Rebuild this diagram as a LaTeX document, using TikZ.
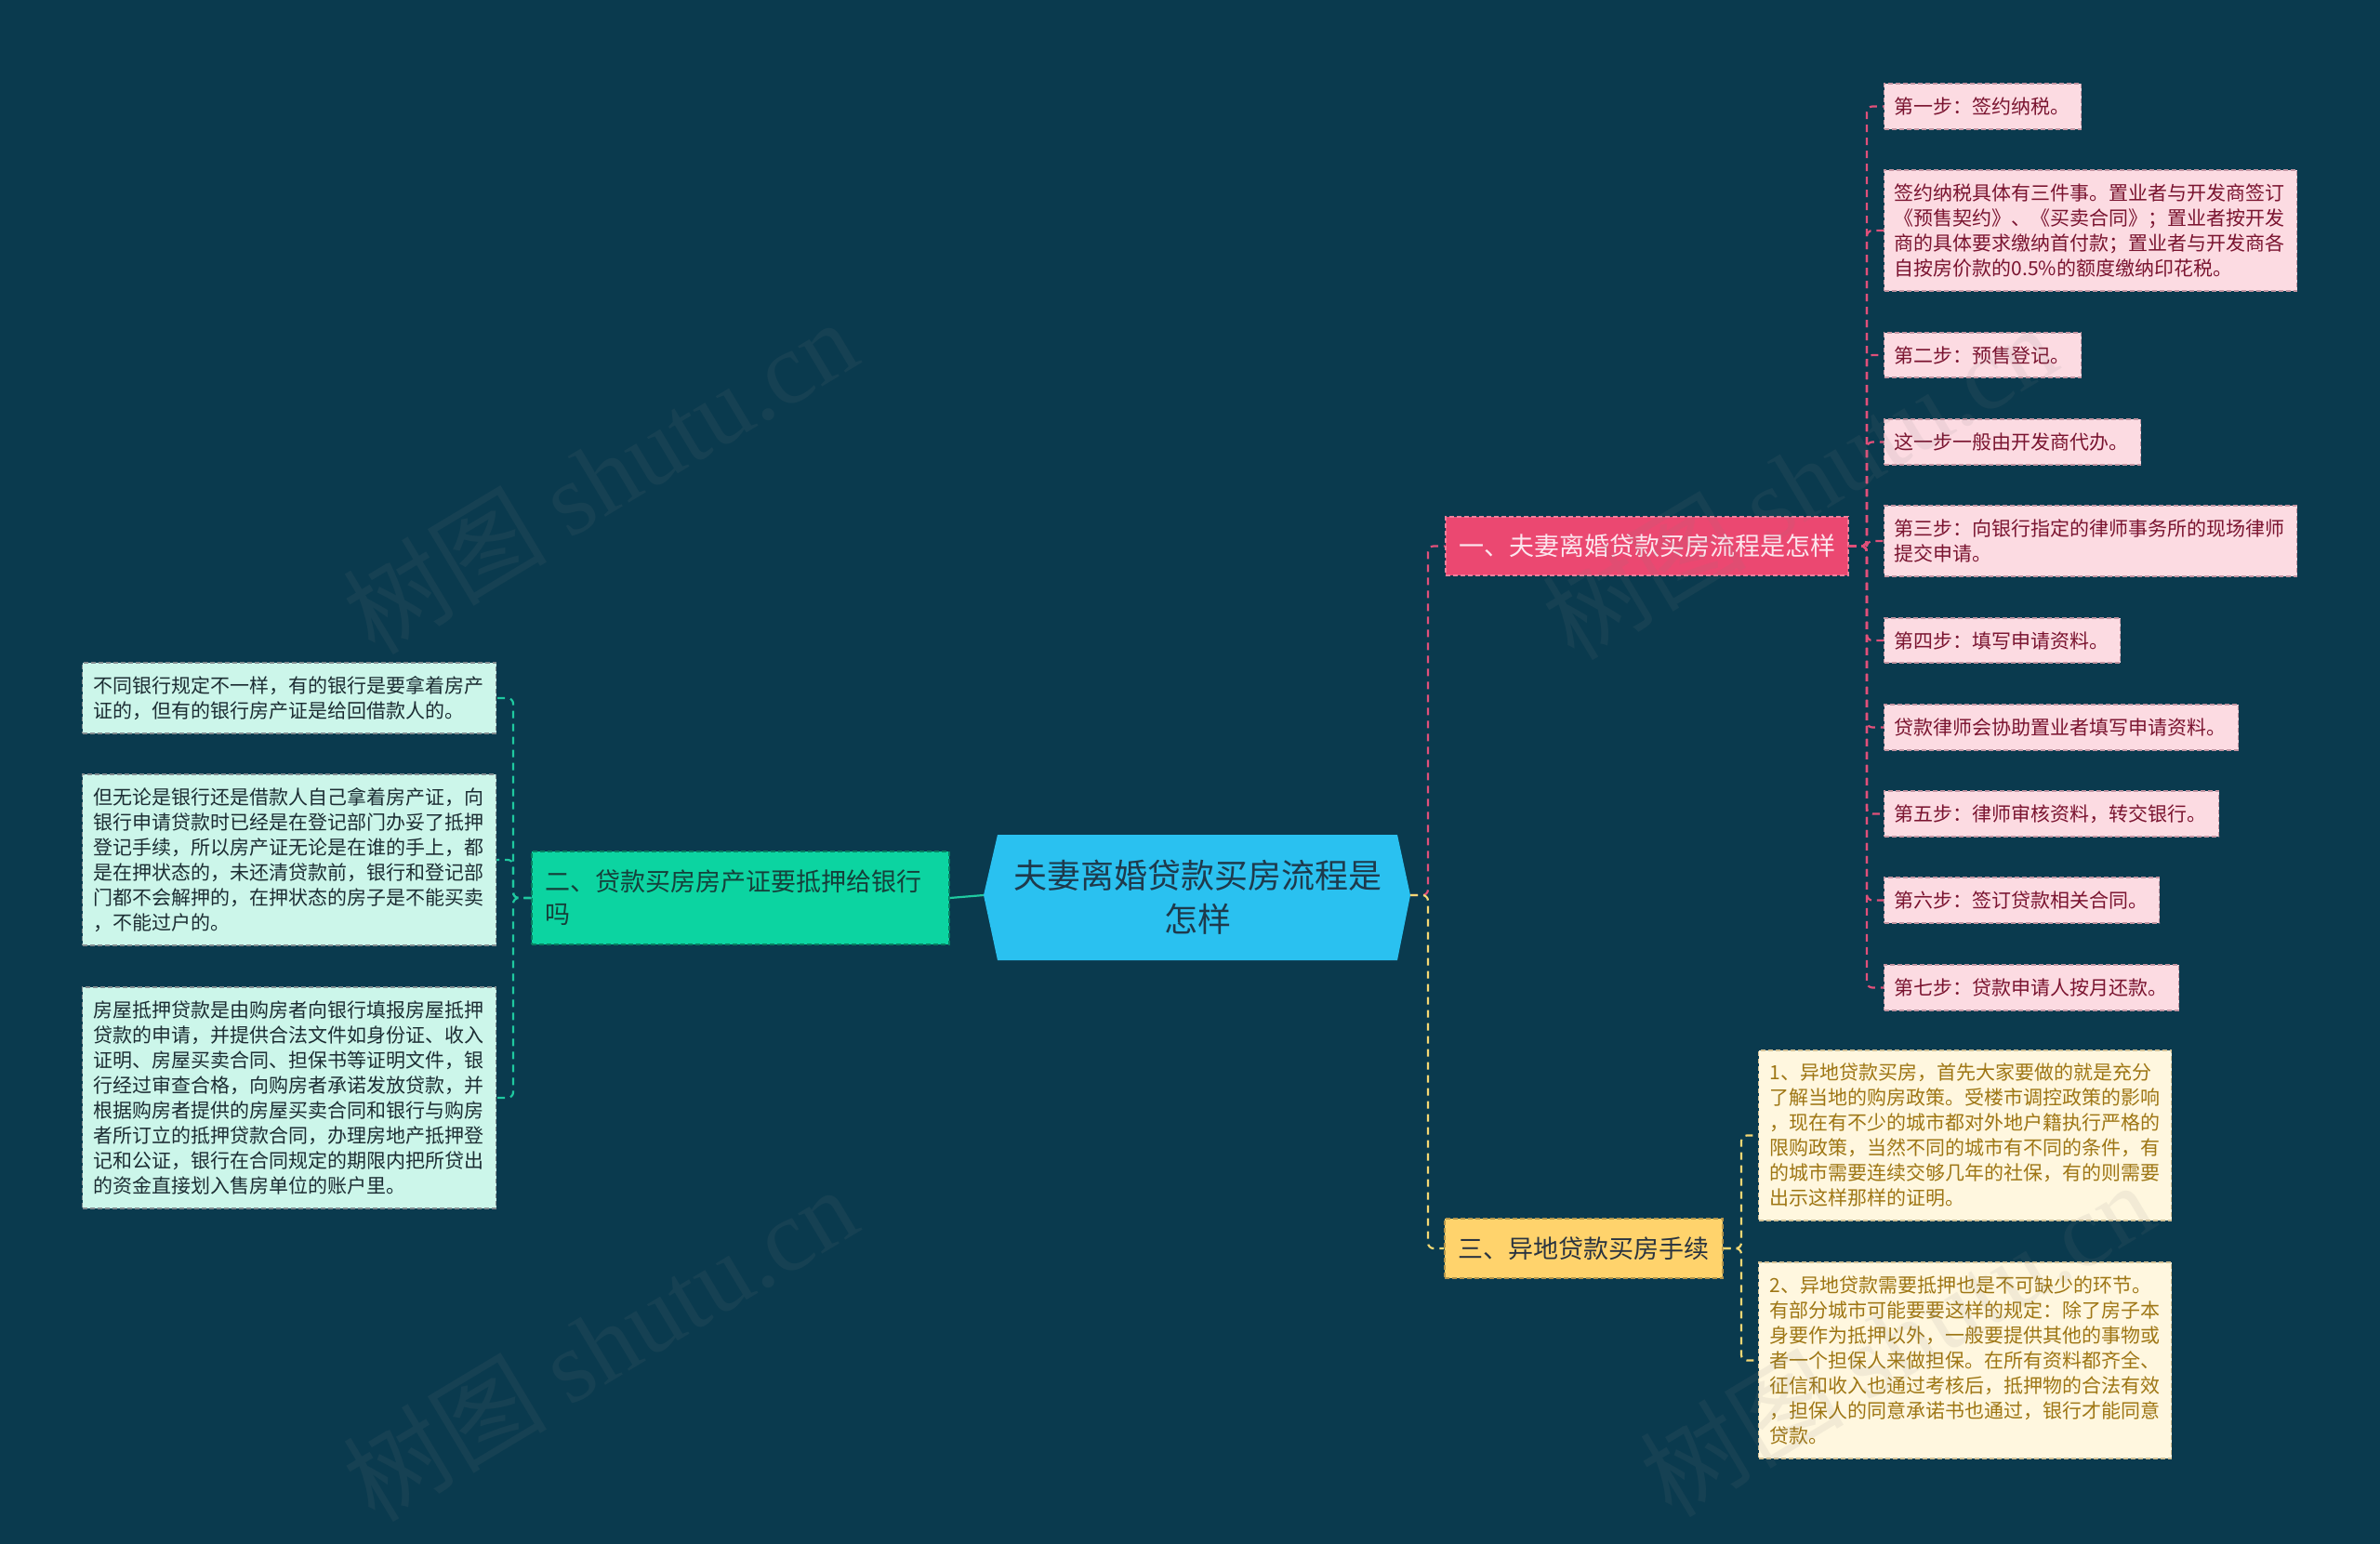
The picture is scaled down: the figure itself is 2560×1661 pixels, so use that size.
\documentclass[tikz,border=0pt]{standalone}
\usepackage{fontspec}
\setmainfont{Noto Sans CJK SC}
\newfontfamily\wmfont{Liberation Serif}
\definecolor{bg}{HTML}{0A3A4E}
\definecolor{mainfill}{HTML}{2AC1F0}
\definecolor{maintext}{HTML}{1E3A4C}
\definecolor{pinkfill}{HTML}{EB4871}
\definecolor{pinktext}{HTML}{FCE6EE}
\definecolor{pinkline}{HTML}{E0507A}
\definecolor{pleaffill}{HTML}{FCDBE2}
\definecolor{pleaftext}{HTML}{7A1430}
\definecolor{greenfill}{HTML}{0CD4A1}
\definecolor{greentext}{HTML}{15403A}
\definecolor{greenline}{HTML}{1FC9A0}
\definecolor{gleaffill}{HTML}{CCF6EA}
\definecolor{gleaftext}{HTML}{1C2D33}
\definecolor{yelfill}{HTML}{FFD36C}
\definecolor{yeltext}{HTML}{2A3440}
\definecolor{yelline}{HTML}{F5D874}
\definecolor{yleaffill}{HTML}{FFF7DF}
\definecolor{yleaftext}{HTML}{9E7614}
\tikzset{
  boxbase/.style={draw, line width=1.3pt, dash pattern=on 5pt off 3pt, inner ysep=0pt},
  pleaf/.style={boxbase, fill=pleaffill, draw=pleaftext!45, text=pleaftext, inner xsep=11pt, align=left, font=\fontsize{21}{27}\selectfont},
  gleaf/.style={boxbase, fill=gleaffill, draw=gleaftext!55, text=gleaftext, inner xsep=12pt, align=left, font=\fontsize{21}{27}\selectfont},
  yleaf/.style={boxbase, fill=yleaffill, draw=yleaftext!45, text=yleaftext, inner xsep=12pt, align=left, font=\fontsize{21}{27}\selectfont},
  branchbox/.style={boxbase, inner xsep=14pt, font=\fontsize{27}{35}\selectfont},
  conn/.style={line width=2.2pt, dash pattern=on 8pt off 6pt, rounded corners=6pt},
  wmark/.style={text=gray, text opacity=0.1, rotate=31, font=\fontsize{110}{115}\selectfont}
}
\begin{document}
\begin{tikzpicture}[x=1pt,y=-1pt]
\fill[bg] (0,0) rectangle (2560,1661);
\useasboundingbox (0,0) rectangle (2560,1661);

% central topic
\fill[mainfill] (1058,963) -- (1073,898) -- (1503,898) -- (1517,963) -- (1503,1033) -- (1073,1033) -- cycle;
\node[text=maintext, align=center, font=\fontsize{36}{47}\selectfont] (center) at (1288,965) {夫妻离婚贷款买房流程是\\怎样};
\coordinate (cL) at (1058,963);
\coordinate (cR) at (1517,963);
\coordinate (jR) at (1536,963);

% branches
\node[branchbox, fill=pinkfill, draw=pinkfill!70!white, text=pinktext, minimum width=433, minimum height=63] (b1) at (1771.5,587.5) {一、夫妻离婚贷款买房流程是怎样};
\node[branchbox, fill=greenfill, draw=greenfill!60!black, text=greentext, minimum width=449, minimum height=100, text width=421, align=left] (b2) at (796.5,966) {二、贷款买房房产证要抵押给银行\\吗};
\node[branchbox, fill=yelfill, draw=yelfill!70!black, text=yeltext, minimum width=299, minimum height=64] (b3) at (1703.5,1343) {三、异地贷款买房手续};

% pink leaves
\node[pleaf, minimum width=211, minimum height=49, text width=190] (p1) at (2132.5,114.5) {第一步：签约纳税。};
\node[pleaf, minimum width=443, minimum height=130, text width=422] (p2) at (2248.5,248) {签约纳税具体有三件事。置业者与开发商签订\\《预售契约》、《买卖合同》；置业者按开发\\商的具体要求缴纳首付款；置业者与开发商各\\自按房价款的0.5\%的额度缴纳印花税。};
\node[pleaf, minimum width=211, minimum height=48, text width=190] (p3) at (2132.5,382) {第二步：预售登记。};
\node[pleaf, minimum width=275, minimum height=49, text width=254] (p4) at (2164.5,475.5) {这一步一般由开发商代办。};
\node[pleaf, minimum width=443, minimum height=76, text width=422] (p5) at (2248.5,582) {第三步：向银行指定的律师事务所的现场律师\\提交申请。};
\node[pleaf, minimum width=253, minimum height=48, text width=232] (p6) at (2153.5,689) {第四步：填写申请资料。};
\node[pleaf, minimum width=380, minimum height=49, text width=359] (p7) at (2217,782.5) {贷款律师会协助置业者填写申请资料。};
\node[pleaf, minimum width=359, minimum height=49, text width=338] (p8) at (2206.5,875.5) {第五步：律师审核资料，转交银行。};
\node[pleaf, minimum width=295, minimum height=49, text width=274] (p9) at (2174.5,968.5) {第六步：签订贷款相关合同。};
\node[pleaf, minimum width=316, minimum height=49, text width=295] (p10) at (2185,1062.5) {第七步：贷款申请人按月还款。};

% green leaves
\node[gleaf, minimum width=444, minimum height=76, text width=421] (g1) at (311,751) {不同银行规定不一样，有的银行是要拿着房产\\证的，但有的银行房产证是给回借款人的。};
\node[gleaf, minimum width=444, minimum height=184, text width=421] (g2) at (311,925) {但无论是银行还是借款人自己拿着房产证，向\\银行申请贷款时已经是在登记部门办妥了抵押\\登记手续，所以房产证无论是在谁的手上，都\\是在押状态的，未还清贷款前，银行和登记部\\门都不会解押的，在押状态的房子是不能买卖\\，不能过户的。};
\node[gleaf, minimum width=444, minimum height=238, text width=421] (g3) at (311,1181) {房屋抵押贷款是由购房者向银行填报房屋抵押\\贷款的申请，并提供合法文件如身份证、收入\\证明、房屋买卖合同、担保书等证明文件，银\\行经过审查合格，向购房者承诺发放贷款，并\\根据购房者提供的房屋买卖合同和银行与购房\\者所订立的抵押贷款合同，办理房地产抵押登\\记和公证，银行在合同规定的期限内把所贷出\\的资金直接划入售房单位的账户里。};

% yellow leaves
\node[yleaf, minimum width=443, minimum height=183, text width=420] (y1) at (2113.5,1221.5) {1、异地贷款买房，首先大家要做的就是充分\\了解当地的购房政策。受楼市调控政策的影响\\，现在有不少的城市都对外地户籍执行严格的\\限购政策，当然不同的城市有不同的条件，有\\的城市需要连续交够几年的社保，有的则需要\\出示这样那样的证明。};
\node[yleaf, minimum width=443, minimum height=211, text width=420] (y2) at (2113.5,1463.5) {2、异地贷款需要抵押也是不可缺少的环节。\\有部分城市可能要要这样的规定：除了房子本\\身要作为抵押以外，一般要提供其他的事物或\\者一个担保人来做担保。在所有资料都齐全、\\征信和收入也通过考核后，抵押物的合法有效\\，担保人的同意承诺书也通过，银行才能同意\\贷款。};

% junction coordinates
\coordinate (jP) at (2008,587.5);
\coordinate (jG) at (552,966);
\coordinate (jY) at (1873,1343);

% connectors
\draw[conn, pinkline] (cR) -- (jR) |- (b1.west);
\draw[conn, yelline] (cR) -- (jR) |- (b3.west);
\draw[line width=2.2pt, greenline] (cL) -- (b2.east);
\foreach \n in {p1,p2,p3,p4,p5,p6,p7,p8,p9,p10}
  \draw[conn, pinkline] (b1.east) -- (jP) |- (\n.west);
\foreach \n in {g1,g2,g3}
  \draw[conn, greenline] (b2.west) -- (jG) |- (\n.east);
\foreach \n in {y1,y2}
  \draw[conn, yelline] (b3.east) -- (jY) |- (\n.west);

% watermarks
\node[wmark] (wm1) at (645,512) {树图 {\wmfont shutu.cn}};
\node[wmark] (wm2) at (1935,518) {树图 {\wmfont shutu.cn}};
\node[wmark] (wm3) at (645,1445) {树图 {\wmfont shutu.cn}};
\node[wmark] (wm4) at (2040,1440) {树图 {\wmfont shutu.cn}};
\end{tikzpicture}
\end{document}
